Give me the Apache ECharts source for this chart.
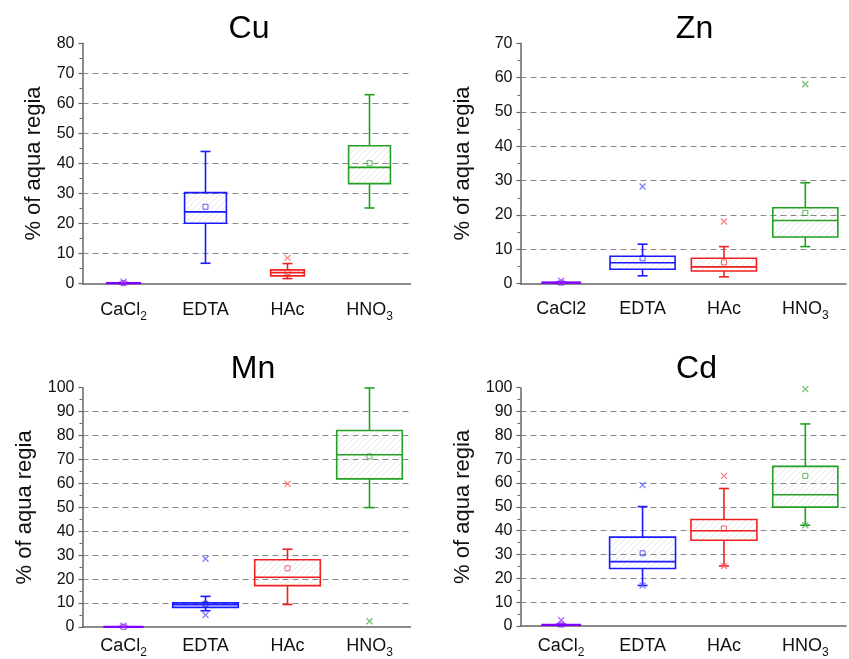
<!DOCTYPE html>
<html><head><meta charset="utf-8">
<script src="https://cdn.jsdelivr.net/npm/echarts@6/dist/echarts.min.js"></script>
<style>html,body{margin:0;padding:0;background:#fff}#c{width:849px;height:659px}</style>
</head><body><div id="c"></div><script>
// ---- categories (tick labels) ----
const catsCu = ['CaCl₂', 'EDTA', 'HAc', 'HNO₃'];
const catsZn = ['CaCl2', 'EDTA', 'HAc', 'HNO₃'];
const catsMn = ['CaCl₂', 'EDTA', 'HAc', 'HNO₃'];
const catsCd = ['CaCl₂', 'EDTA', 'HAc', 'HNO₃'];

// ---- box statistics: [lower whisker, Q1, median, Q3, upper whisker] ----
const cuBox = [[0.0, 0.1, 0.2, 0.3, 0.4], [6.8, 20.1, 23.9, 30.3, 44.0], [1.7, 2.6, 3.7, 4.6, 6.7], [25.2, 33.3, 38.7, 45.9, 62.9]];
const cuMean = [0.2, 25.6, 3.8, 40.1];
const cuOut = [[0, 0.7], [2, 8.6]];

const znBox = [[0.1, 0.2, 0.3, 0.4, 0.5], [2.3, 4.2, 6.1, 8.0, 11.5], [2.0, 3.7, 4.9, 7.4, 10.8], [10.8, 13.6, 18.4, 22.1, 29.4]];
const znMean = [0.3, 7.4, 6.2, 20.6];
const znOut = [[0, 0.9], [1, 28.3], [2, 18.1], [3, 58.1]];

const mnBox = [[0.0, 0.05, 0.1, 0.15, 0.2], [6.8, 8.2, 9.3, 10.1, 12.8], [9.4, 17.3, 20.8, 28.1, 32.5], [49.9, 61.9, 72.0, 82.1, 99.9]];
const mnMean = [0.1, 9.7, 24.5, 71.3];
const mnOut = [[0, 0.5], [1, 28.5], [1, 5.0], [2, 59.8], [3, 2.4]];

const cdBox = [[0.2, 0.3, 0.5, 0.6, 0.8], [17.0, 24.1, 27.0, 37.3, 50.1], [25.2, 36.0, 40.0, 44.7, 57.7], [42.3, 49.9, 55.1, 67.0, 84.8]];
const cdMean = [0.6, 30.5, 40.9, 63.0];
const cdOut = [[0, 2.4], [1, 59.1], [1, 17.0], [2, 63.0], [2, 25.2], [3, 99.4], [3, 42.3]];

// y-axis ranges
const yMaxCu = 80, yMaxZn = 70, yMaxMn = 100, yMaxCd = 100;
const yStep = 10;

// ---- styling ----
const COLORS = ['#8000ff', '#1a1aff', '#f02020', '#22a022'];
const OUT_COLORS = ['#a040ff', '#6060ff', '#ff6060', '#50b050'];
const FONT = 'Liberation Sans, Arial, Helvetica, sans-serif';

const hatch = (function () {
  const cv = document.createElement('canvas');
  cv.width = 6; cv.height = 6;
  const ctx = cv.getContext('2d');
  ctx.strokeStyle = 'rgba(0,0,0,0.09)';
  ctx.lineWidth = 1;
  ctx.beginPath();
  ctx.moveTo(0, 6); ctx.lineTo(6, 0);
  ctx.moveTo(-1, 1); ctx.lineTo(1, -1);
  ctx.moveTo(5, 7); ctx.lineTo(7, 5);
  ctx.stroke();
  return { image: cv, repeat: 'repeat' };
})();

const panels = [
  { title: 'Cu', cats: catsCu, box: cuBox, mean: cuMean, out: cuOut, max: yMaxCu,
    grid: { left: 82.5, top: 43.3, width: 328, height: 240.4 }, tx: 244, ty: 8,
    nameGap: 38, labelMargin: 17, widths: [0.41, 0.51, 0.41, 0.51] },
  { title: 'Zn', cats: catsZn, box: znBox, mean: znMean, out: znOut, max: yMaxZn,
    grid: { left: 520.5, top: 43.3, width: 325.5, height: 240.4 }, tx: 689.5, ty: 8,
    nameGap: 47, labelMargin: 16, widths: [0.47, 0.8, 0.8, 0.8] },
  { title: 'Mn', cats: catsMn, box: mnBox, mean: mnMean, out: mnOut, max: yMaxMn,
    grid: { left: 82.5, top: 387.7, width: 328, height: 240.6 }, tx: 248, ty: 348,
    nameGap: 47, labelMargin: 10, widths: [0.47, 0.8, 0.8, 0.8] },
  { title: 'Cd', cats: catsCd, box: cdBox, mean: cdMean, out: cdOut, max: yMaxCd,
    grid: { left: 520.5, top: 387.7, width: 325.5, height: 240.6 }, tx: 691.5, ty: 348,
    nameGap: 47, labelMargin: 11, widths: [0.47, 0.81, 0.81, 0.8] }
];

function subFormat(v) {
  return v.replace(/([₀-₉])/g, function (c) { return '{s|' + (c.charCodeAt(0) - 0x2080) + '}'; })
          .replace(/^([^{]+)/, '{n|$1}');
}

function makeRender(widths) {
  return function (params, api) {
    const ci = api.value(0);
    const lo = api.coord([ci, api.value(1)]);
    const q1 = api.coord([ci, api.value(2)]);
    const md = api.coord([ci, api.value(3)]);
    const q3 = api.coord([ci, api.value(4)]);
    const hi = api.coord([ci, api.value(5)]);
    const mn = api.coord([ci, api.value(6)]);
    const band = api.size([1, 0])[0];
    const hw = band * widths[ci] / 2;
    const x = lo[0];
    const c = COLORS[ci];
    const cap = 5;
    const ls = { stroke: c, lineWidth: 1.6 };
    return {
      type: 'group',
      children: [
        { type: 'line', shape: { x1: x, y1: hi[1], x2: x, y2: q3[1] }, style: ls },
        { type: 'line', shape: { x1: x, y1: q1[1], x2: x, y2: lo[1] }, style: ls },
        { type: 'line', shape: { x1: x - cap, y1: hi[1], x2: x + cap, y2: hi[1] }, style: ls },
        { type: 'line', shape: { x1: x - cap, y1: lo[1], x2: x + cap, y2: lo[1] }, style: ls },
        { type: 'rect', shape: { x: x - hw, y: q3[1], width: 2 * hw, height: Math.max(q1[1] - q3[1], 0.5) },
          style: { fill: hatch, stroke: c, lineWidth: 1.6 } },
        { type: 'line', shape: { x1: x - hw, y1: md[1], x2: x + hw, y2: md[1] }, style: ls },
        { type: 'rect', shape: { x: mn[0] - 2.5, y: mn[1] - 2.5, width: 5, height: 5 },
          style: { fill: 'none', stroke: c, lineWidth: 1, opacity: 0.7 } }
      ]
    };
  };
}

const option = {
  animation: false,
  backgroundColor: '#fff',
  title: [], grid: [], xAxis: [], yAxis: [], series: []
};

panels.forEach(function (p, i) {
  option.title.push({ text: p.title, left: p.tx, top: p.ty, textAlign: 'center',
    textStyle: { fontSize: 32, fontWeight: 'normal', color: '#000', fontFamily: FONT } });
  option.grid.push(Object.assign({ containLabel: false }, p.grid));
  option.xAxis.push({
    type: 'category', gridIndex: i, data: p.cats, boundaryGap: true,
    axisLine: { lineStyle: { color: '#666', width: 1.5 } },
    axisTick: { alignWithLabel: true, length: 4, lineStyle: { color: '#666', width: 1.2 } },
    axisLabel: { interval: 0, hideOverlap: false, margin: p.labelMargin, color: '#111', fontSize: 18, fontFamily: FONT,
      formatter: subFormat,
      rich: { n: { fontSize: 18, fontFamily: FONT, color: '#111', verticalAlign: 'top', lineHeight: 20 },
              s: { fontSize: 12, fontFamily: FONT, color: '#111', verticalAlign: 'top', lineHeight: 12, padding: [10, 0, 0, 0] } } },
    splitLine: { show: false }
  });
  option.yAxis.push({
    type: 'value', gridIndex: i, min: 0, max: p.max, interval: yStep,
    name: '% of aqua regia', nameLocation: 'middle', nameGap: p.nameGap,
    nameTextStyle: { fontSize: 22, color: '#111', fontFamily: FONT },
    axisLine: { show: true, lineStyle: { color: '#666', width: 1.5 } },
    axisTick: { show: true, length: 4, lineStyle: { color: '#666', width: 1.2 } },
    minorTick: { show: true, splitNumber: 2, length: 3, lineStyle: { color: '#666', width: 1 } },
    axisLabel: { margin: 8, color: '#111', fontSize: 16, fontFamily: FONT },
    splitLine: { show: true, showMinLine: false, showMaxLine: false,
      lineStyle: { type: [6, 4], color: '#8a8a8a', width: 1.2 } }
  });
  option.series.push({
    type: 'custom', xAxisIndex: i, yAxisIndex: i,
    renderItem: makeRender(p.widths),
    encode: { x: 0, y: [1, 2, 3, 4, 5, 6] },
    data: p.box.map(function (b, ci) { return [ci].concat(b).concat([p.mean[ci]]); }),
    z: 3
  });
  option.series.push({
    type: 'scatter', xAxisIndex: i, yAxisIndex: i,
    symbol: 'path://M0,0L10,10M10,0L0,10', symbolSize: 6,
    data: p.out.map(function (o) {
      return { value: o, itemStyle: { color: 'none', borderColor: OUT_COLORS[o[0]], borderWidth: 1.3 } };
    }),
    z: 4
  });
});

const chart = echarts.init(document.getElementById('c'), null, { renderer: 'canvas' });
chart.setOption(option);
</script></body></html>
